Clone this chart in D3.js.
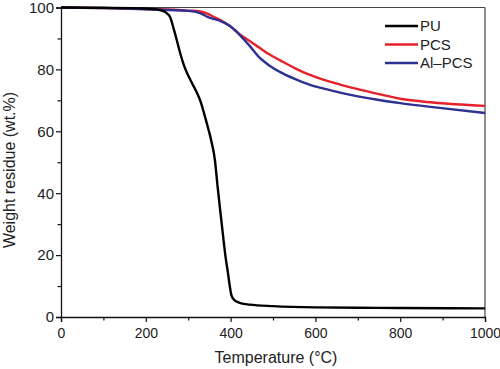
<!DOCTYPE html>
<html><head><meta charset="utf-8">
<script src="https://cdn.jsdelivr.net/npm/d3@7"></script>
<style>body{margin:0;background:#fff}svg{display:block}text{font-family:"Liberation Sans",Arial,sans-serif;fill:#222}</style>
</head><body>
<svg id="c" width="500" height="369"></svg>
<script>
const seriesNames = ["PU", "PCS", "Al–PCS"];
const seriesColors = ["#000000", "#e8202a", "#2e3192"];
const puT = [0,100,200,220,233,245,257,265,273,281,290,300,310,320,330,340,347,356,363,369,375,382,388,394,398,402,408,414,425,445,500,600,700,800,1000];
const puW = [100,99.9,99.7,99.5,99.2,98.6,97,93.5,89.5,85.3,81.3,78,75.3,72.6,69.3,64.5,61,56,50.7,42.6,35,26.5,19.5,14,10,7,5.6,5,4.4,4,3.5,3.1,3.0,2.9,2.8];
const pcsT = [0,100,200,300,328,345,360,375,399,422,445,469,492,516,550,587,620,658,700,750,800,877,1000];
const pcsW = [100,99.8,99.5,99,98.7,98,97,96,93.9,91.3,89.2,86.9,84.8,83,80.5,78.2,76.6,75.1,73.6,72,70.5,69.3,68.2];
const alT = [0,100,200,300,328,345,360,375,399,422,445,469,492,516,550,587,620,658,700,750,800,877,1000];
const alW = [100,99.8,99.4,98.9,98.2,97,96.3,95.7,94,91.1,87.6,83.7,81.2,79.2,77,75,73.8,72.5,71.3,70.1,69.1,67.8,65.9];
const xTicks = [0,200,400,600,800,1000];
const yTicks = [0,20,40,60,80,100];

const svg = d3.select("#c");
const x = d3.scaleLinear().domain([0,1000]).range([61,485]);
const y = d3.scaleLinear().domain([0,100]).range([317,7.5]);

svg.append("line").attr("x1",61).attr("x2",485).attr("y1",y(100)).attr("y2",y(100)).attr("stroke","#444").attr("stroke-width",1.2);
svg.append("line").attr("x1",485).attr("x2",485).attr("y1",y(100)).attr("y2",y(0)).attr("stroke","#444").attr("stroke-width",1.2);

const series = [[puT,puW],[pcsT,pcsW],[alT,alW]];
const line = d3.line().x(d=>x(d[0])).y(d=>y(d[1])).curve(d3.curveMonotoneX);
[1,2,0].forEach(i=>{
  const data = series[i][0].map((t,k)=>[t,series[i][1][k]]);
  svg.append("path").datum(data).attr("d",line).attr("fill","none")
    .attr("stroke",seriesColors[i]).attr("stroke-width",2.4).attr("stroke-linejoin","round");
});

const xAxis = svg.append("g").attr("transform","translate(0,317)");
xAxis.call(d3.axisBottom(x).tickValues(d3.range(0,1001,100)).tickSize(5).tickFormat(d=>xTicks.includes(d)?d:""));
xAxis.selectAll(".tick").filter(d=>!xTicks.includes(d)).select("line").attr("y2",3.5);
xAxis.selectAll("text").attr("font-size",14).attr("dy","0.9em").attr("fill","#222");
const yAxis = svg.append("g").attr("transform","translate(61,0)");
yAxis.call(d3.axisLeft(y).tickValues(d3.range(0,101,10)).tickSize(5).tickFormat(d=>yTicks.includes(d)?d:""));
yAxis.selectAll(".tick").filter(d=>!yTicks.includes(d)).select("line").attr("x2",-3.5);
yAxis.selectAll("text").attr("font-size",15).attr("x",-7).attr("fill","#222");
svg.selectAll(".domain").attr("stroke","#111").attr("stroke-width",1.3);
svg.selectAll(".tick line").attr("stroke","#111").attr("stroke-width",1.2);
svg.selectAll("g").attr("font-family",null);

svg.append("text").attr("x",276).attr("y",363).attr("text-anchor","middle").attr("font-size",16).text("Temperature (°C)");
svg.append("text").attr("transform","translate(15,170) rotate(-90)").attr("text-anchor","middle").attr("font-size",16).text("Weight residue (wt.%)");

const lg = svg.append("g");
seriesNames.forEach((n,i)=>{
  const yy = 26 + i*18.5;
  lg.append("line").attr("x1",385).attr("x2",418).attr("y1",yy).attr("y2",yy).attr("stroke",seriesColors[i]).attr("stroke-width",2.4);
  lg.append("text").attr("x",420).attr("y",yy).attr("dy","0.35em").attr("font-size",15).text(n);
});
</script>
</body></html>
